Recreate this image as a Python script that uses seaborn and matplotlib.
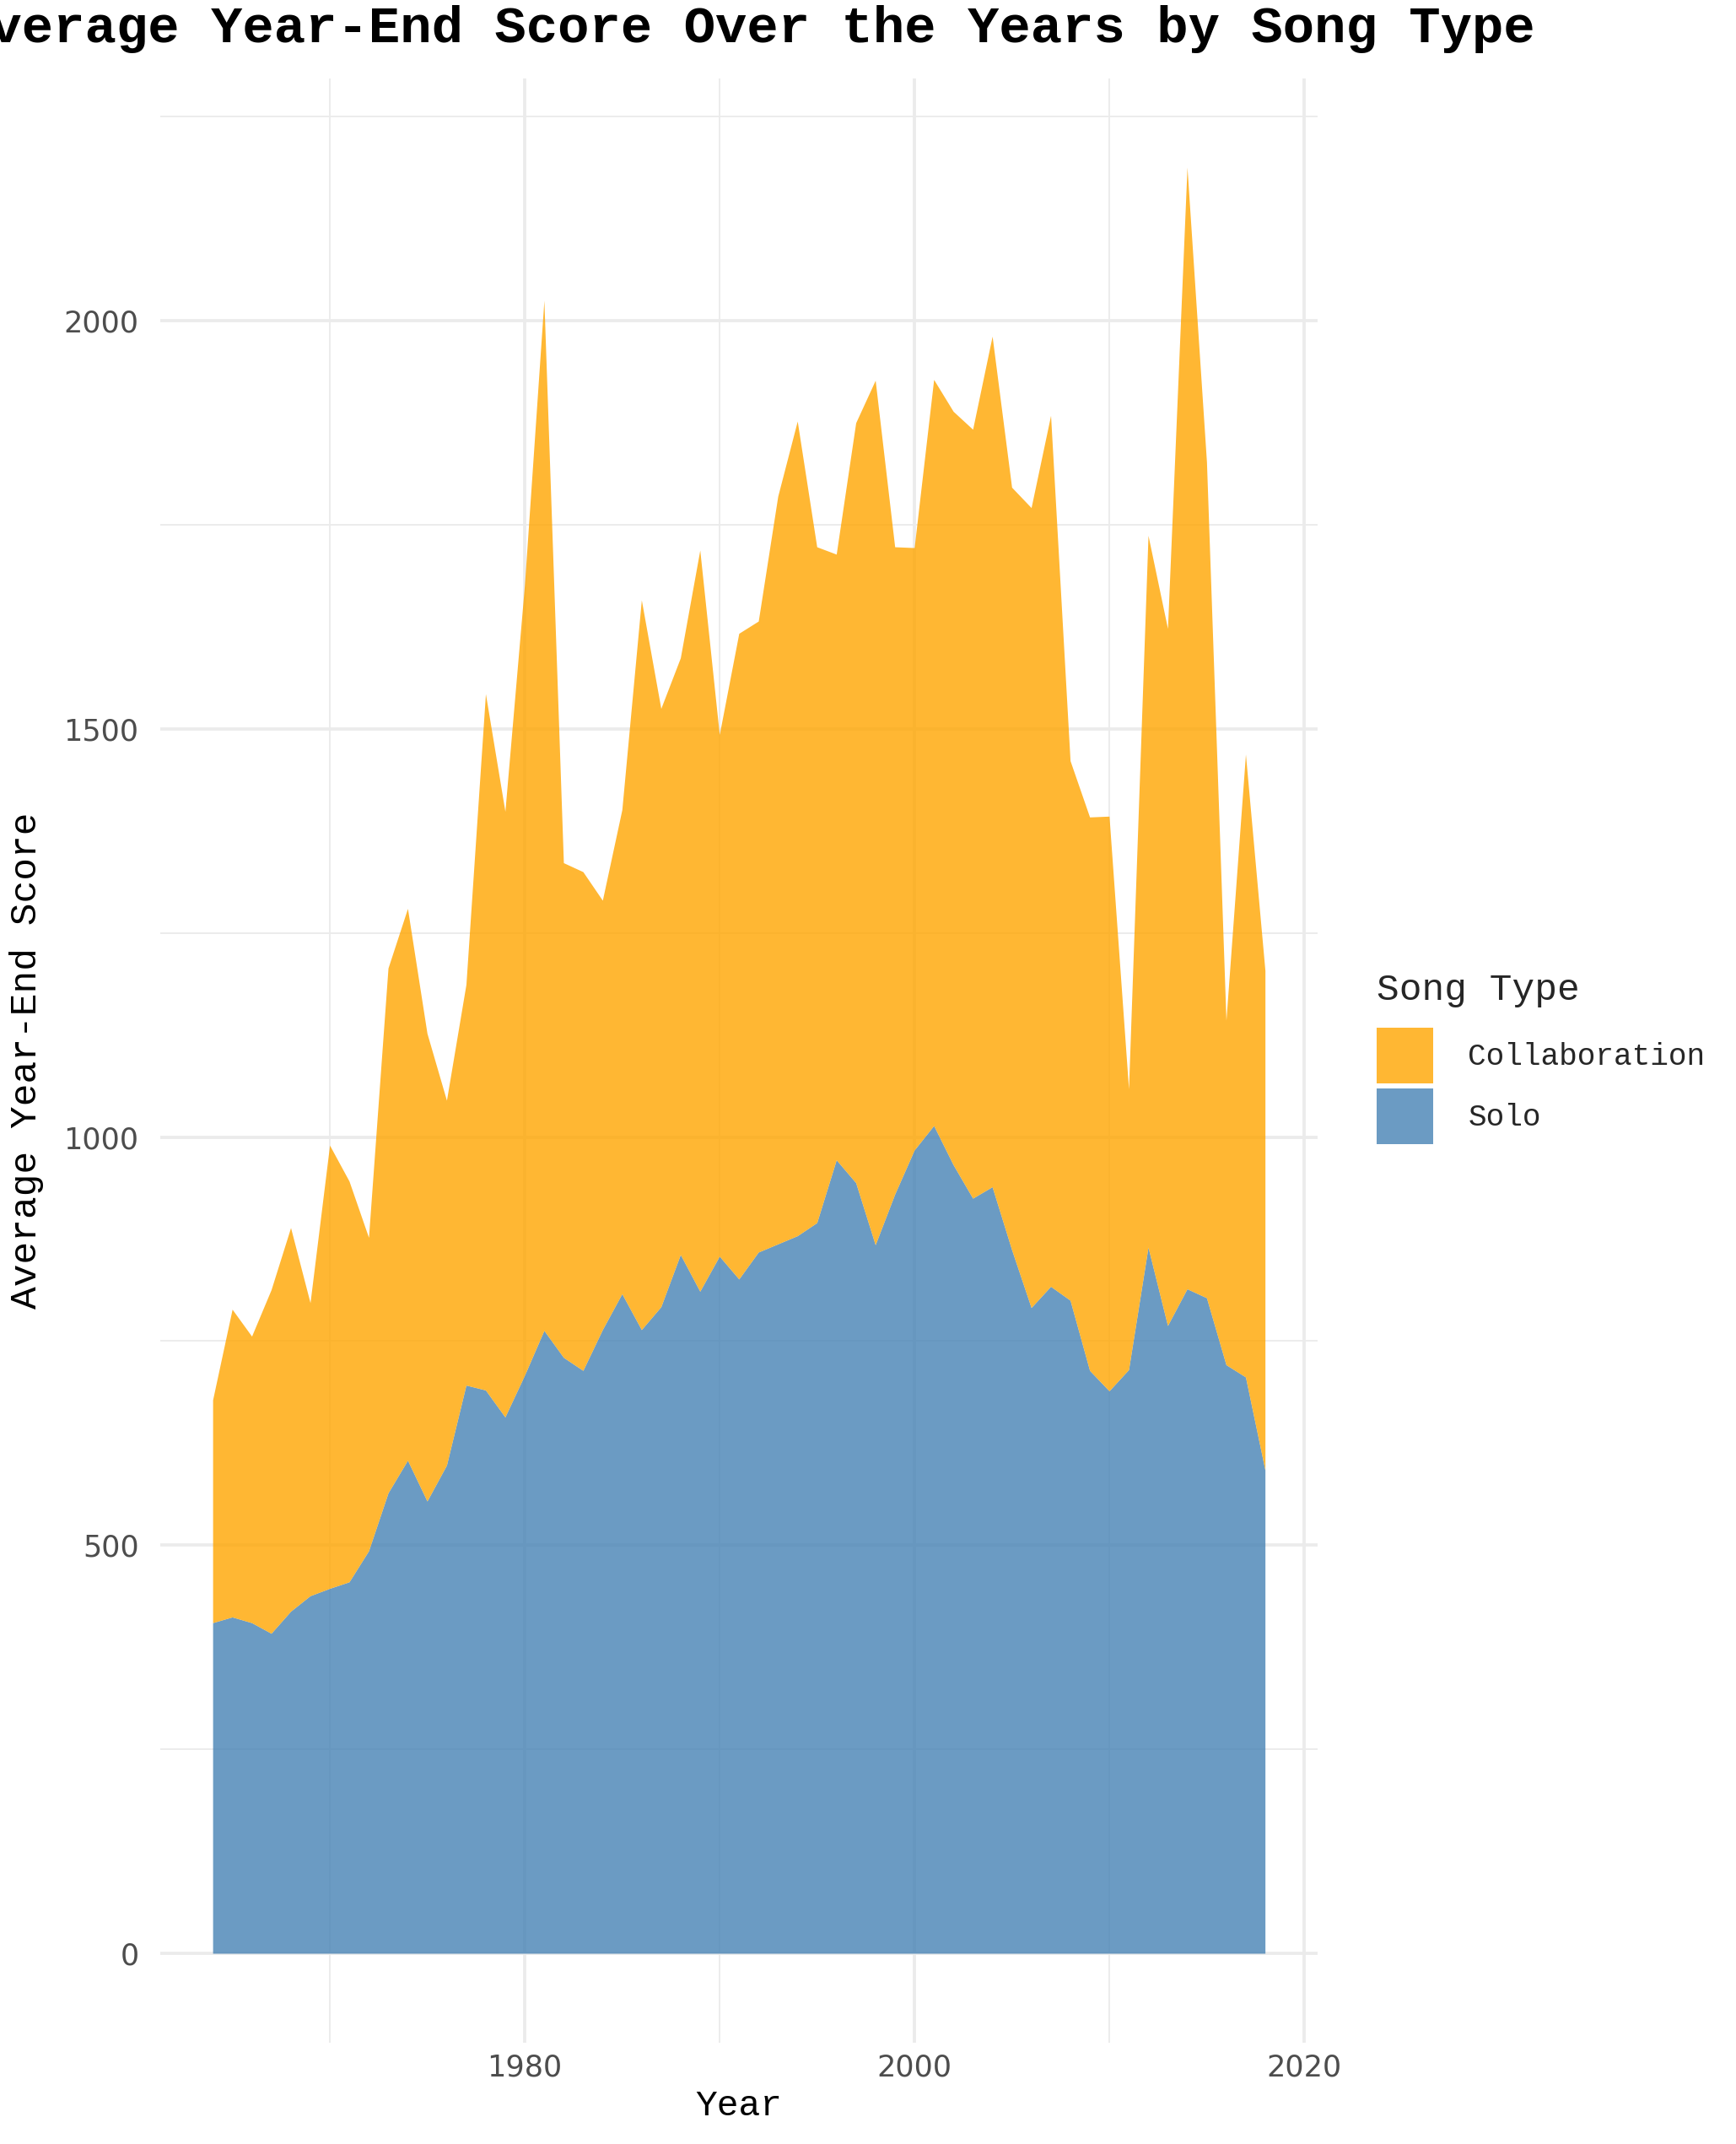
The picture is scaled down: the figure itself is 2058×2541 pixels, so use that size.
import matplotlib
matplotlib.use("Agg")
import matplotlib.pyplot as plt
from matplotlib.patches import Patch
from matplotlib.ticker import MultipleLocator
import seaborn as sns

sns.set_theme(style="white")
plt.rcParams["font.family"] = ["Liberation Mono", "DejaVu Sans"]

# values
years = list(range(1964, 2019))
solo = [405, 412, 405, 392, 419, 438, 447, 455, 493, 564,
        604, 554, 598, 696, 690, 657, 708, 763, 730, 714,
        764, 808, 764, 792, 856, 811, 854, 826, 859, 869,
        879, 895, 972, 944, 868, 930, 984, 1014, 966, 925,
        939, 862, 791, 817, 800, 714, 689, 715, 865, 769,
        814, 803, 721, 706, 592]
collaboration = [273, 377, 351, 421, 470, 359, 543, 491, 384, 643,
                 676, 573, 447, 491, 853, 742, 968, 1262, 606, 611,
                 526, 593, 894, 733, 731, 908, 639, 791, 773, 916,
                 998, 828, 742, 931, 1059, 793, 738, 914, 923, 942,
                 1042, 934, 980, 1067, 661, 678, 704, 344, 872, 854,
                 1374, 1024, 422, 763, 612]
song_types = ["Collaboration", "Solo"]

ORANGE = "#FFA500"
BLUE = "#4682B4"
GRID = "#EBEBEB"

fig = plt.figure(figsize=(2058 / 200, 2541 / 200), dpi=200)
ax = fig.add_axes([0.0922, 0.0473, 0.6668, 0.9162])

ax.stackplot(years, solo, collaboration, colors=[BLUE, ORANGE], alpha=0.8,
             linewidth=0, zorder=3)

ax.set_xlim(1961.3, 2020.7)
ax.set_ylim(-109.4, 2297)
ax.xaxis.set_major_locator(MultipleLocator(20))
ax.xaxis.set_minor_locator(MultipleLocator(10))
ax.yaxis.set_major_locator(MultipleLocator(500))
ax.yaxis.set_minor_locator(MultipleLocator(250))
ax.grid(which="major", color=GRID, linewidth=1.35, zorder=0)
ax.grid(which="minor", color=GRID, linewidth=0.65, zorder=0)
ax.set_axisbelow(True)
for s in ax.spines.values():
    s.set_visible(False)

ax.tick_params(which="both", length=0)
ax.tick_params(axis="x", pad=4.5)
ax.tick_params(axis="y", pad=9)
for lab in ax.get_xticklabels() + ax.get_yticklabels():
    lab.set_family("DejaVu Sans")
    lab.set_fontsize(12.6)
    lab.set_color("#4D4D4D")

ax.set_xlabel("Year", fontsize=15.5, color="black")
ax.set_ylabel("Average Year-End Score", fontsize=16, color="black")
ax.xaxis.set_label_coords(0.4997, -0.0238)
ax.yaxis.set_label_coords(-0.1003, 0.5)

# the reference title runs past the left edge, kept as is
fig.text(885 / 2058, 1 - 50 / 2541, "Average Year-End Score Over the Years by Song Type",
         ha="center", va="baseline", fontsize=22.4, fontweight="bold", color="black")

handles = [Patch(facecolor=ORANGE, alpha=0.8, linewidth=0),
           Patch(facecolor=BLUE, alpha=0.8, linewidth=0)]
leg = fig.legend(handles, song_types, title="Song Type", loc="upper left",
                 bbox_to_anchor=(1632 / 2058, 1 - 1153 / 2541), frameon=False,
                 fontsize=13, title_fontsize=16, borderpad=0, borderaxespad=0,
                 handlelength=1.85, handleheight=2.44, handletextpad=1.15,
                 labelspacing=0.17, alignment="left")
leg._legend_box.sep = 8.6

fig.savefig("out.png", dpi=200)
